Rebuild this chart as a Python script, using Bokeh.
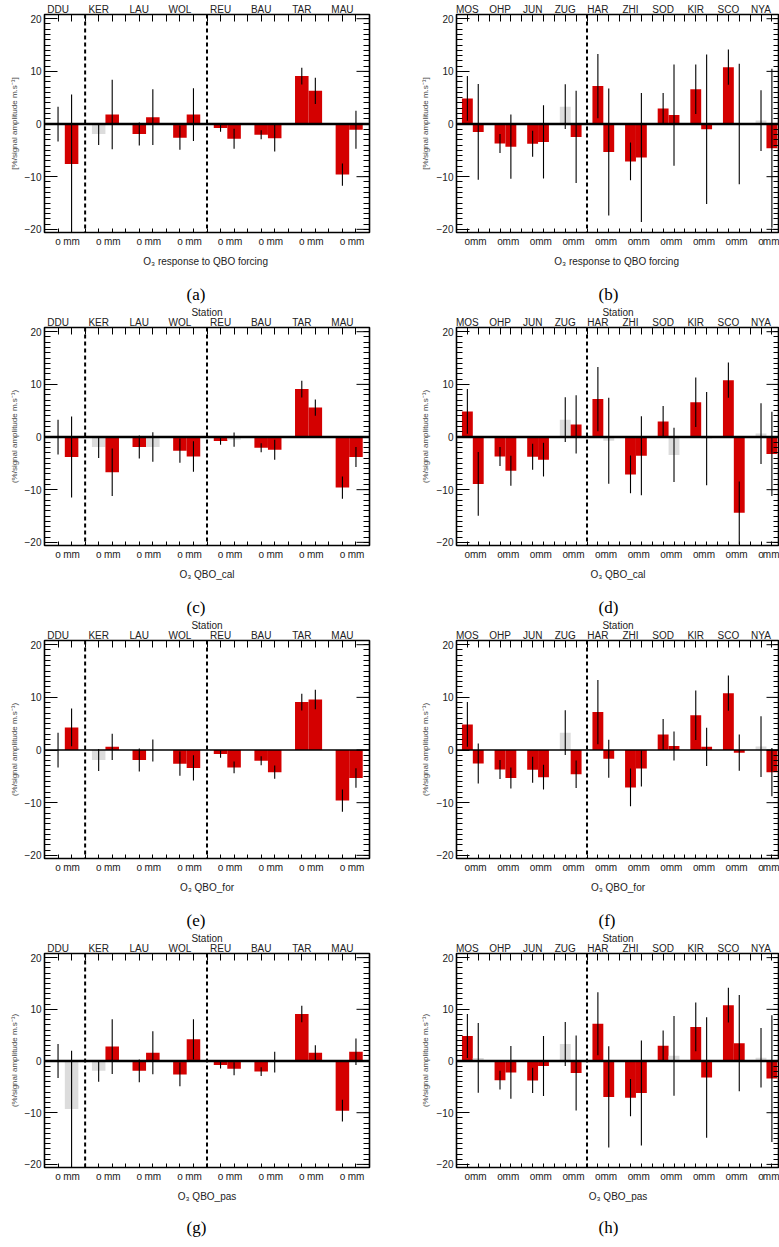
import math
from bokeh.plotting import figure
from bokeh.models import (Range1d, LinearAxis, FixedTicker, Span, ColumnDataSource,
                          Title, SingleIntervalTicker)
from bokeh.layouts import column, row
from bokeh.embed import file_html
from bokeh.resources import INLINE

# ---------------- data ----------------
left_stations = ["DDU", "KER", "LAU", "WOL", "REU", "BAU", "TAR", "MAU"]
left_obs = [0.0, -1.9, -1.9, -2.6, -0.75, -2.05, 9.1, -9.6]
left_obs_err = [3.3, 2.1, 2.2, 2.3, 0.7, 0.85, 1.6, 2.1]
left_obs_sig = [0, 0, 1, 1, 1, 1, 1, 1]

left_forcing = [-7.6, 1.8, 1.3, 1.8, -2.8, -2.7, 6.3, -1.1]
left_forcing_err = [13.2, 6.6, 5.3, 5.0, 1.9, 2.5, 2.5, 3.6]
left_forcing_sig = [1, 1, 1, 1, 1, 1, 1, 1]

left_cal = [-3.8, -6.7, -1.9, -3.7, -0.5, -2.4, 5.6, -3.8]
left_cal_err = [7.7, 4.5, 2.8, 2.9, 1.35, 1.9, 1.55, 1.9]
left_cal_sig = [1, 1, 0, 1, 0, 1, 1, 1]

left_for = [4.3, 0.6, -0.1, -3.4, -3.3, -4.2, 9.6, -5.3]
left_for_err = [3.6, 2.5, 2.1, 2.4, 1.1, 1.25, 1.85, 1.85]
left_for_sig = [1, 1, 0, 1, 1, 1, 1, 1]

left_pas = [-9.3, 2.8, 1.6, 4.2, -1.5, -0.2, 1.6, 1.8]
left_pas_err = [11.3, 5.3, 4.15, 3.9, 1.25, 2.0, 1.45, 2.55]
left_pas_sig = [0, 1, 1, 1, 1, 0, 1, 1]

right_stations = ["MOS", "OHP", "JUN", "ZUG", "HAR", "ZHI", "SOD", "KIR", "SCO", "NYA"]
right_obs = [4.85, -3.7, -3.75, 3.3, 7.2, -7.1, 2.95, 6.6, 10.8, 0.65]
right_obs_err = [4.25, 1.8, 2.45, 4.25, 6.1, 3.6, 2.95, 4.7, 3.35, 5.75]
right_obs_sig = [1, 1, 1, 0, 1, 1, 1, 1, 1, 0]

right_forcing = [-1.5, -4.3, -3.4, -2.45, -5.3, -6.35, 1.7, -1.0, 0.0, -4.6]
right_forcing_err = [9.1, 6.1, 6.95, 8.75, 12.05, 12.25, 9.6, 14.2, 11.45, 15.1]
right_forcing_sig = [1, 1, 1, 1, 1, 1, 1, 1, 1, 1]

right_cal = [-8.9, -6.4, -4.3, 2.4, -0.7, -3.55, -3.4, -0.3, -14.4, -3.2]
right_cal_err = [6.05, 2.85, 3.2, 5.55, 8.15, 7.5, 5.15, 8.85, 5.95, 8.0]
right_cal_sig = [1, 1, 1, 1, 0, 1, 0, 0, 1, 1]

right_for = [-2.55, -5.3, -5.15, -4.6, -1.65, -3.5, 0.75, 0.6, -0.5, -4.2]
right_for_err = [3.8, 2.0, 2.35, 2.6, 3.6, 3.45, 2.75, 3.65, 3.45, 4.6]
right_for_sig = [1, 1, 1, 1, 1, 1, 1, 1, 1, 1]

right_pas = [0.6, -2.2, -0.95, -2.3, -6.95, -6.2, 1.0, -3.2, 3.45, -3.4]
right_pas_err = [6.75, 5.1, 5.8, 7.25, 9.8, 10.15, 7.7, 11.65, 9.3, 12.25]
right_pas_sig = [0, 1, 1, 1, 1, 1, 0, 1, 1, 1]

x_titles = ["O\u2083 response to  QBO forcing", "O\u2083 QBO_cal", "O\u2083 QBO_for", "O\u2083 QBO_pas"]
captions_left = ["(a)", "(c)", "(e)", "(g)"]
captions_right = ["(b)", "(d)", "(f)", "(h)"]
ylabel_first = "[%/signal amplitude m.s\u207b\u00b9]"
ylabel_other = "(%/signal amplitude m.s\u207b\u00b9)"

RED = "#d40000"
GREY = "#dcdcdc"
FONT = "Liberation Sans"
TXT = "#222222"
YMIN, YMAX = -20.6, 20.8
Y_MAJOR = 10


def style_axis(ax, tick_in, minor_in=0):
    ax.axis_line_color = None
    ax.major_tick_in = tick_in
    ax.major_tick_out = 0
    ax.minor_tick_in = minor_in
    ax.minor_tick_out = 0
    ax.major_tick_line_color = "black"
    ax.minor_tick_line_color = "black"
    ax.major_label_text_font = FONT
    ax.major_label_text_font_size = "10px"
    ax.major_label_text_color = TXT
    ax.axis_label_text_font = FONT
    ax.axis_label_text_font_style = "normal"
    ax.axis_label_text_color = TXT


def caption_title(text, standoff):
    return Title(text=text, align="left", offset=142, standoff=standoff,
                 text_font="Liberation Serif", text_font_size="17px",
                 text_font_style="normal", text_color="black")


def panel(stations, obs, obs_err, obs_sig, mod, mod_err, mod_sig, dashed, xtitle,
          ylabel, station_title, zero_w, width, height, b_top, b_bottom, b_left,
          b_right, xmax, ylab_standoff, cap_above=None, cap_below=None):
    n = len(stations)
    xs = [3 * i + 1 for i in range(n)] + [3 * i + 2 for i in range(n)]
    vals = list(obs) + list(mod)
    errs = list(obs_err) + list(mod_err)
    sig = list(obs_sig) + list(mod_sig)
    src = ColumnDataSource(dict(
        x=xs, top=vals,
        lo=[v - e for v, e in zip(vals, errs)],
        hi=[v + e for v, e in zip(vals, errs)],
        color=[RED if s else GREY for s in sig]))

    p = figure(width=width, height=height, x_range=Range1d(0, xmax),
               y_range=Range1d(YMIN, YMAX), output_backend="svg",
               toolbar_location=None, title=None,
               min_border_top=b_top, min_border_bottom=b_bottom,
               min_border_left=b_left, min_border_right=b_right)
    p.grid.visible = False
    p.outline_line_color = "black"
    p.outline_line_width = 1.6
    p.background_fill_color = "white"
    p.border_fill_color = "white"

    p.vbar(x="x", width=1, top="top", bottom=0, fill_color="color",
           line_color=None, source=src)
    p.add_layout(Span(location=0, dimension="width", line_color="black",
                      line_width=zero_w))
    for d in dashed:
        p.add_layout(Span(location=d, dimension="height", line_color="black",
                          line_width=2, line_dash="4 3"))
    p.segment(x0="x", y0="lo", x1="x", y1="hi", line_color="black",
              line_width=1.1, source=src)

    o_ticks = [3 * i + 1 for i in range(n)]
    m_ticks = [3 * i + 2 for i in range(n)]
    gap_ticks = [3 * i + 3 for i in range(n - 1)]

    # bottom axis: "o" and "mm" labels under each station's pair of bars
    bx = p.xaxis[0]
    bx.ticker = FixedTicker(ticks=o_ticks + m_ticks, minor_ticks=gap_ticks)
    lab = {t: "o" for t in o_ticks}
    lab.update({t: "mm" for t in m_ticks})
    bx.major_label_overrides = lab
    style_axis(bx, 4, 4)
    bx.major_label_standoff = 3
    bx.axis_label = xtitle
    bx.axis_label_text_font_size = "10px"
    bx.axis_label_standoff = 6

    # top axis: station names
    tx = LinearAxis(ticker=FixedTicker(ticks=o_ticks, minor_ticks=m_ticks + gap_ticks))
    tx.major_label_overrides = {t: stations[i] for i, t in enumerate(o_ticks)}
    style_axis(tx, 7, 7)
    tx.major_label_standoff = 0
    if station_title:
        tx.axis_label = "Station"
        tx.axis_label_text_font_size = "10px"
        tx.axis_label_standoff = -4
    p.add_layout(tx, "above")

    # left axis
    ly = p.yaxis[0]
    ly.ticker = SingleIntervalTicker(interval=Y_MAJOR, num_minor_ticks=10)
    style_axis(ly, 13, 6)
    ly.major_label_standoff = 3
    ly.axis_label = ylabel
    ly.axis_label_text_font_size = "8px"
    ly.axis_label_text_color = "#444444"
    ly.axis_label_standoff = ylab_standoff

    # right axis: tick marks only (minor via axis, major via short rays)
    yminor = list(range(-20, 21))
    ry = LinearAxis(ticker=FixedTicker(ticks=[], minor_ticks=yminor))
    style_axis(ry, 13, 6)
    ry.major_label_standoff = 0
    p.add_layout(ry, "right")
    ymaj = list(range(-20, 21, Y_MAJOR))
    p.ray(x=[xmax] * len(ymaj), y=ymaj, length=13, angle=math.pi,
          length_units="screen", line_color="black", line_width=1)

    # sub-figure captions (the caption of the panel above sits in this figure's top margin)
    if cap_above:
        p.add_layout(caption_title(cap_above, 0), "above")
    if cap_below:
        p.add_layout(caption_title(cap_below, 22), "below")
    return p


left_sets = [(left_forcing, left_forcing_err, left_forcing_sig),
             (left_cal, left_cal_err, left_cal_sig),
             (left_for, left_for_err, left_for_sig),
             (left_pas, left_pas_err, left_pas_sig)]
right_sets = [(right_forcing, right_forcing_err, right_forcing_sig),
              (right_cal, right_cal_err, right_cal_sig),
              (right_for, right_for_err, right_for_sig),
              (right_pas, right_pas_err, right_pas_sig)]

FRAME_H = 218
rows = []
for k in range(4):
    first = (k == 0)
    last = (k == 3)
    bt = 14 if first else 55
    bb = 76 if last else 40
    h = bt + FRAME_H + bb
    ylab = ylabel_first if first else ylabel_other
    zw = 1.5 if k == 2 else 2.5
    lm, le, ls = left_sets[k]
    rm, re_, rs = right_sets[k]
    pl = panel(left_stations, left_obs, left_obs_err, left_obs_sig, lm, le, ls,
               [3, 12], x_titles[k], ylab, not first, zw,
               390, h, bt, bb, 44, 21, 24, 3,
               cap_above=None if first else captions_left[k - 1],
               cap_below=captions_left[k] if last else None)
    pr = panel(right_stations, right_obs, right_obs_err, right_obs_sig, rm, re_, rs,
               [12], x_titles[k], ylab, not first, zw,
               389, h, bt, bb, 66, 0, 29.7, 4,
               cap_above=None if first else captions_right[k - 1],
               cap_below=captions_right[k] if last else None)
    rows.append(row(pl, pr))

layout = column(*rows)
open("out.html", "w").write(file_html(layout, INLINE))
